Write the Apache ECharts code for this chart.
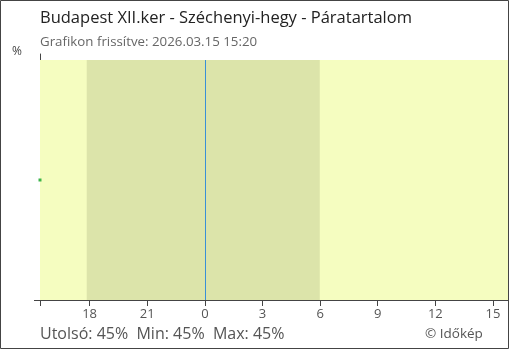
<!DOCTYPE html>
<html>
<head>
<meta charset="utf-8">
<script src="https://cdn.jsdelivr.net/npm/echarts@6/dist/echarts.min.js"></script>
<style>
html,body{margin:0;padding:0;background:#fff;}
#c{width:510px;height:350px;}
</style>
</head>
<body>
<div id="c"></div>
<script>
// ---- data ----
const titleText = 'Budapest XII.ker - Széchenyi-hegy - Páratartalom';
const subtitleText = 'Grafikon frissítve: 2026.03.15 15:20';
const unitText = '%';
const statsText = 'Utolsó: 45%  Min: 45%  Max: 45%';
const creditText = '© Időkép';

const axisStart = '2026-03-14T15:25:00Z';
const axisEnd = '2026-03-15T15:47:00Z';
const tickTimes = ['2026-03-14T18:00:00Z','2026-03-14T21:00:00Z','2026-03-15T00:00:00Z','2026-03-15T03:00:00Z',
                   '2026-03-15T06:00:00Z','2026-03-15T09:00:00Z','2026-03-15T12:00:00Z','2026-03-15T15:00:00Z'];
const nightStart = '2026-03-14T17:51:00Z';
const nightEnd = '2026-03-15T05:59:00Z';
const midnight = '2026-03-15T00:00:00Z';

const pointTimes = ['2026-03-14T15:25:00Z'];
const humidity = [45];

const yMin = 0, yTop = 90, yMax = 92.25;

// ---- chart ----
const T = s => Date.parse(s);
const tMin = T(axisStart), tMax = T(axisEnd);
const ticks = tickTimes.map(T);
const font = '"Open Sans", "Noto Sans", sans-serif';

const chart = echarts.init(document.getElementById('c'), null, {renderer:'canvas'});
chart.setOption({
  animation:false,
  backgroundColor:'#fff',
  grid:{left:40,right:2,top:54,bottom:50,containLabel:false},
  title:[
    {text:titleText,left:35,top:5,textStyle:{fontFamily:font,fontSize:16.5,fontWeight:'normal',color:'#222'}},
    {text:subtitleText,left:35,top:31,textStyle:{fontFamily:font,fontSize:13.3,fontWeight:'normal',color:'#666'}},
    {text:unitText,left:7,top:41,textStyle:{fontFamily:font,fontSize:12,fontWeight:'normal',color:'#444'}},
    {text:statsText,left:35,top:321,textStyle:{fontFamily:font,fontSize:16,fontWeight:'normal',color:'#555'}},
    {text:creditText,left:420,top:322,textStyle:{fontFamily:font,fontSize:13.5,fontWeight:'normal',color:'#555'}}
  ],
  xAxis:[
    {type:'value',min:tMin,max:tMax,position:'bottom',
     axisLine:{show:true,lineStyle:{color:'#444',width:1}},
     axisTick:{show:true,length:6,inside:false,customValues:[tMin].concat(ticks),lineStyle:{color:'#444'}},
     axisLabel:{show:true,customValues:ticks,margin:8,fontFamily:font,fontSize:13,color:'#555',
       formatter:v=>String(new Date(v).getUTCHours())},
     splitLine:{show:false}},
    {type:'value',min:tMin,max:tMax,position:'bottom',
     axisLine:{show:false},
     axisTick:{show:true,length:6,inside:true,customValues:ticks,lineStyle:{color:'#444'}},
     axisLabel:{show:false},splitLine:{show:false}}
  ],
  yAxis:{type:'value',min:yMin,max:yMax,
    axisLine:{show:true,lineStyle:{color:'#444',width:1}},
    axisTick:{show:true,length:6,customValues:[0],lineStyle:{color:'#444'}},
    axisLabel:{show:false},splitLine:{show:false}},
  series:[
    {type:'line',xAxisIndex:0,
     data:pointTimes.map((t,i)=>[T(t),humidity[i]]),
     symbol:'rect',symbolSize:3,showSymbol:true,
     itemStyle:{color:'#3cb44b'},lineStyle:{color:'#3cb44b',width:1},
     z:5,
     markArea:{silent:true,
       data:[
         [{coord:[tMin,yMin],itemStyle:{color:'#f5fdc0'}},{coord:[tMax,yTop]}],
         [{coord:[T(nightStart),yMin],itemStyle:{color:'#dce4aa'}},{coord:[T(nightEnd),yTop]}]
       ]},
     markLine:{silent:true,symbol:'none',label:{show:false},
       lineStyle:{color:'#3a8fd6',width:1,type:'solid'},
       data:[[{coord:[T(midnight),yMin]},{coord:[T(midnight),yTop]}]]}
    }
  ],
  graphic:[
    {type:'rect',shape:{x:0.5,y:0.5,width:508,height:348},style:{fill:null,stroke:'#444',lineWidth:1},z:100}
  ]
});
</script>
</body>
</html>
